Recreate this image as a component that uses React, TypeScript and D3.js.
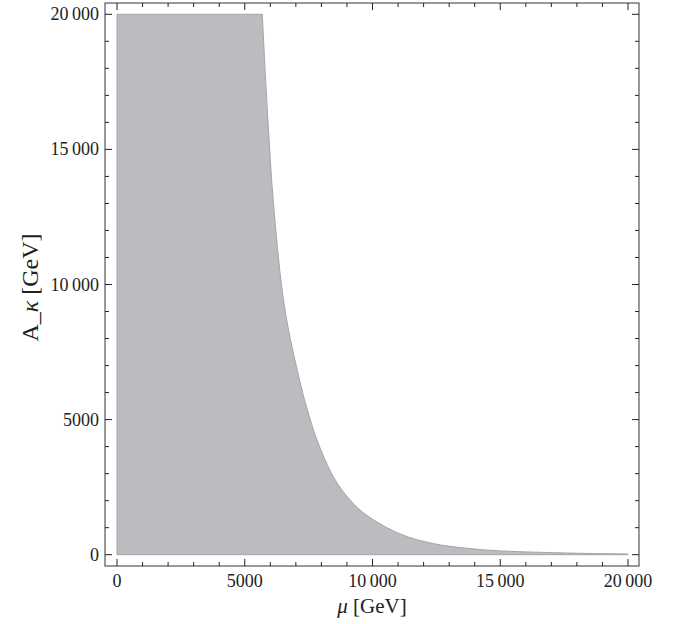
import React from "react";
import * as d3 from "d3";

const muValues = [5687, 5883, 6145, 6575, 7162, 7425, 7815, 8466, 9119, 9773, 11076, 12380, 13687, 14990, 16300, 17600, 18800, 20000];
const akValues = [20000, 16458, 12757, 9056, 6400, 5450, 4280, 2887, 2024, 1460, 770, 410, 237, 140, 95, 62, 40, 26];
const xTicks = [0, 5000, 10000, 15000, 20000];
const yTicks = [0, 5000, 10000, 15000, 20000];
const fmt = (v: number) => (v >= 10000 ? `${Math.floor(v / 1000)}\u2009${String(v % 1000).padStart(3, "0")}` : String(v));

export default function App() {
  const W = 673, H = 624;
  const x = d3.scaleLinear().domain([0, 20000]).range([117, 628]);
  const y = d3.scaleLinear().domain([0, 20000]).range([554.7, 14.3]);
  const L = 105, R = 639, T = 3, B = 566;
  const pts: [number, number][] = muValues.map((m, i) => [m, akValues[i]]);
  const line = d3.line<[number, number]>().x(d => x(d[0])).y(d => y(d[1])).curve(d3.curveCatmullRom.alpha(0.5));
  const curve = line(pts) || "";
  const path = `M${x(0)},${y(0)}L${x(0)},${y(20000)}L${curve.slice(1)}L${x(20000)},${y(0)}Z`;
  const minor = d3.range(0, 20001, 1000);
  const font = "'Liberation Serif', 'Times New Roman', serif";
  return (
    <svg width={W} height={H} style={{ position: "absolute", left: 0, top: 0, background: "#fff" }}>
      <path d={path} fill="#bbbcc0" stroke="#a3a4a8" strokeWidth={1} />
      <rect x={L} y={T} width={R - L} height={B - T} fill="none" stroke="#555" strokeWidth={1.2} />
      {minor.map(v => {
        const major = v % 5000 === 0;
        const len = major ? 7 : 4;
        return (
          <g key={v} stroke="#222" strokeWidth={1}>
            <line x1={x(v)} x2={x(v)} y1={B} y2={B - len} />
            <line x1={x(v)} x2={x(v)} y1={T} y2={T + len} />
            <line y1={y(v)} y2={y(v)} x1={L} x2={L + len} />
            <line y1={y(v)} y2={y(v)} x1={R} x2={R - len} />
          </g>
        );
      })}
      {xTicks.map(v => (
        <text key={v} x={x(v)} y={587} textAnchor="middle" fontFamily={font} fontSize={18} fill="#222">{fmt(v)}</text>
      ))}
      {yTicks.map(v => (
        <text key={v} x={99} y={y(v) + 6} textAnchor="end" fontFamily={font} fontSize={18} fill="#222">{fmt(v)}</text>
      ))}
      <text x={372} y={613} textAnchor="middle" fontFamily={font} fontSize={21} fill="#222">
        <tspan fontStyle="italic">μ</tspan> [GeV]
      </text>
      <text transform={`translate(38,${y(10000) + 3}) rotate(-90)`} textAnchor="middle" fontFamily={font} fontSize={24} fill="#222">
        A_<tspan fontStyle="italic">κ</tspan> [GeV]
      </text>
    </svg>
  );
}
